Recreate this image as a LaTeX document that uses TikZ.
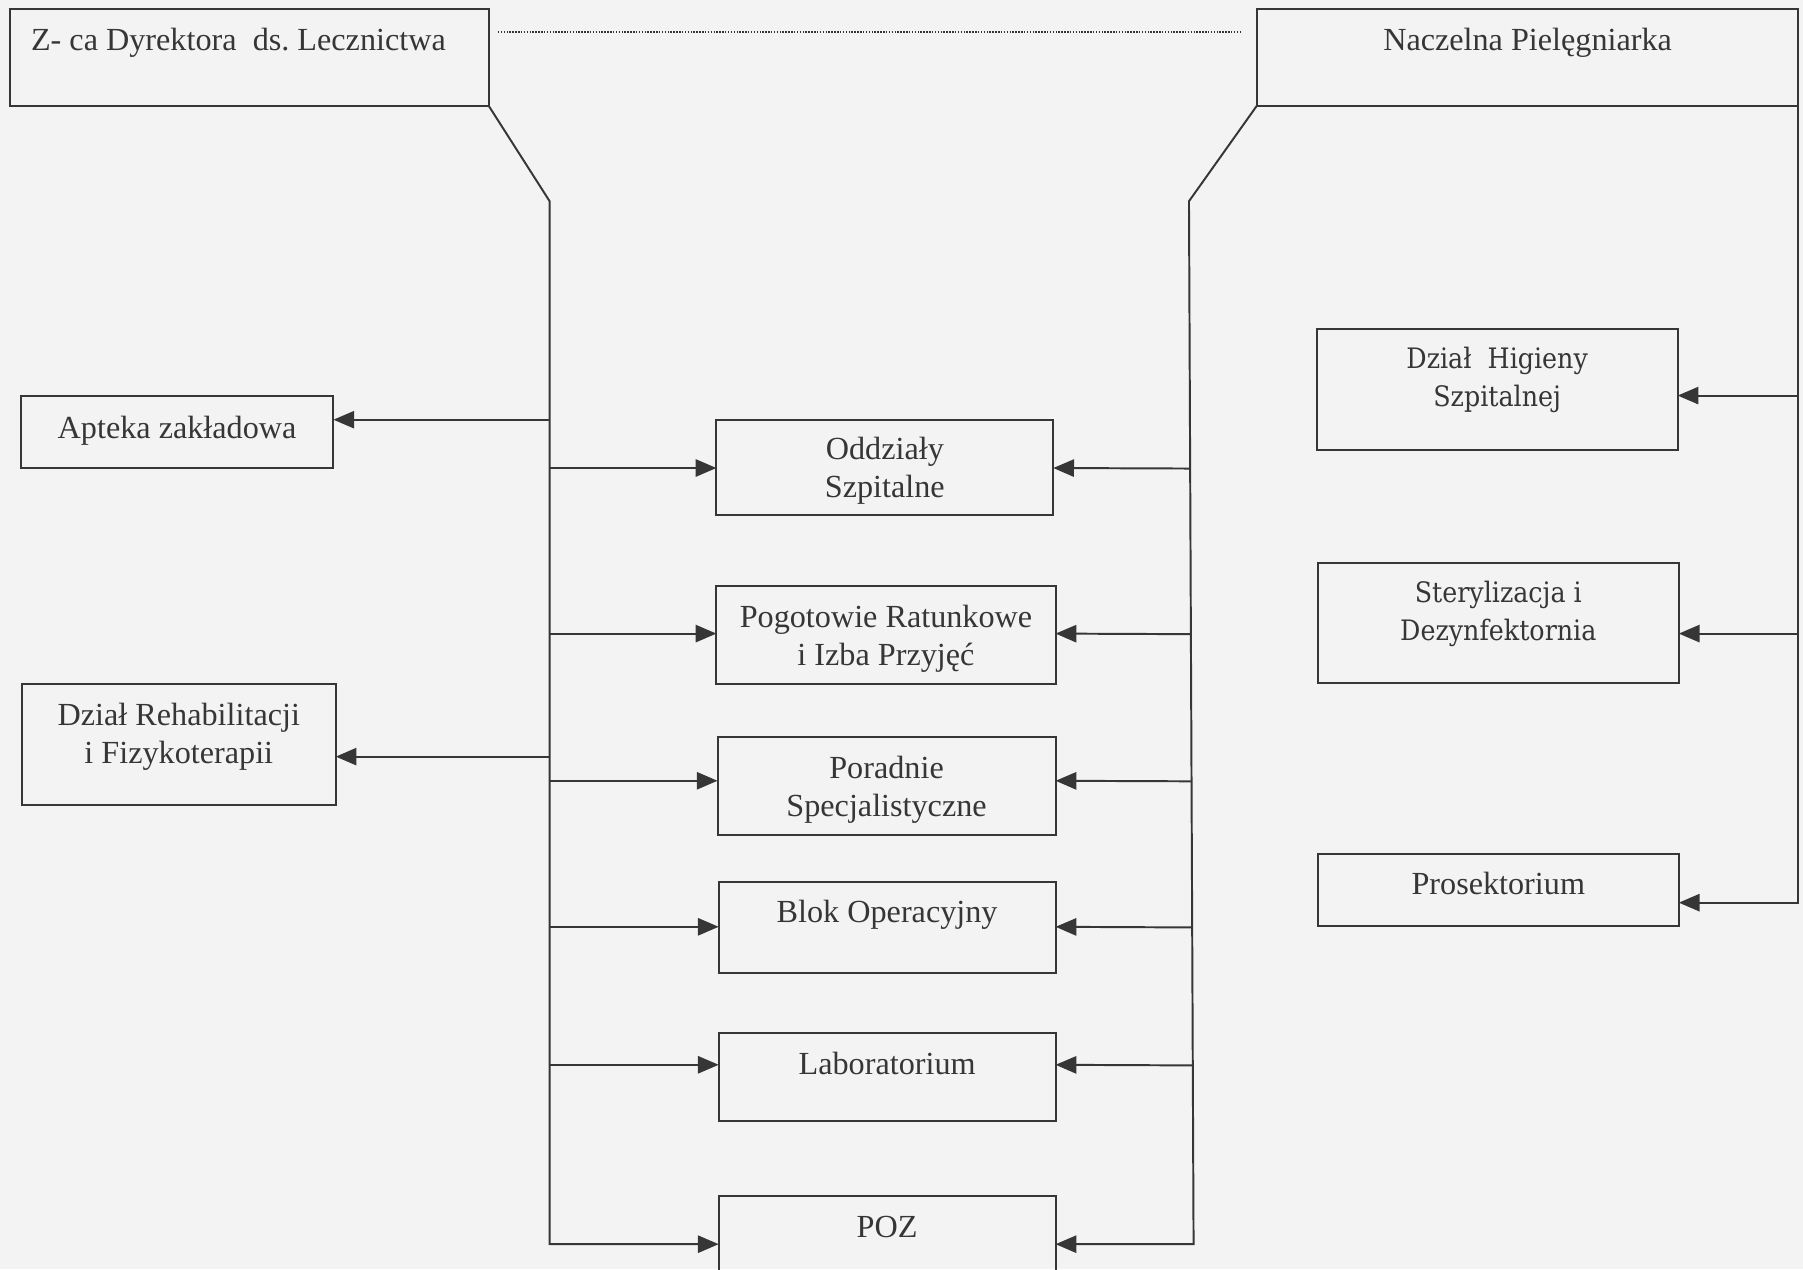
\documentclass[tikz,border=0pt]{standalone}
\usepackage{fontspec}
\setmainfont{Liberation Serif}
\newfontfamily\centfont{DejaVu Serif}[FakeStretch=0.9]
\usetikzlibrary{arrows.meta,calc}
\definecolor{lc}{HTML}{363636}
\definecolor{bg}{HTML}{F3F3F3}
\newcommand{\twol}[2]{\begin{tabular}{@{}c@{}}#1\\#2\end{tabular}}
\begin{document}
\begin{tikzpicture}[x=1pt,y=-1pt,
  box/.style={draw=lc, line width=1.7pt, inner sep=0pt, outer sep=0pt,
    text=lc, font=\fontsize{28}{33}\selectfont},
  rbox/.style={box, font=\centfont\fontsize{24.5}{33}\selectfont},
  conn/.style={draw=lc, line width=1.7pt},
  arr/.style={conn, -{Triangle[length=18pt,width=15pt]}},
  dots/.style={draw=lc, line width=1.3pt, dash pattern=on 1.3pt off 1.2pt}]
\fill[bg] (0,0) rectangle (1568,1104);
\useasboundingbox (0,0) rectangle (1568,1104);

% top boxes
\node[box, minimum width=416pt, minimum height=84pt, text width=380pt, align=flush left,
  text height=20pt, text depth=32pt] (zca) at (217,50) {Z- ca Dyrektora\ \ ds.\ Lecznictwa};
\node[box, minimum width=471pt, minimum height=84pt,
  text height=20pt, text depth=32pt] (nac) at (1328.5,50) {Naczelna Pielęgniarka};

% left column
\node[box, minimum width=272pt, minimum height=63pt, text height=20pt, text depth=9pt]
  (apt) at (154,375.5) {Apteka zakładowa};
\node[box, minimum width=273pt, minimum height=105pt, text height=40pt, text depth=41pt]
  (reh) at (155.5,647.5) {\twol{Dział Rehabilitacji}{i Fizykoterapii}};

% centre column
\node[box, minimum width=293pt, minimum height=83pt, text height=40pt, text depth=21pt]
  (odd) at (769.5,406.5) {\twol{Oddziały}{Szpitalne}};
\node[box, minimum width=295pt, minimum height=85pt, text height=40pt, text depth=22pt]
  (pog) at (770.5,552.5) {\twol{Pogotowie Ratunkowe}{i Izba Przyjęć}};
\node[box, minimum width=294pt, minimum height=85pt, text height=40pt, text depth=20pt]
  (por) at (771,683.5) {\twol{Poradnie}{Specjalistyczne}};
\node[box, minimum width=293pt, minimum height=79pt, text height=20pt, text depth=29pt]
  (blok) at (771.5,806.5) {Blok Operacyjny};
\node[box, minimum width=293pt, minimum height=77pt, text height=20pt, text depth=25pt]
  (lab) at (771.5,936.5) {Laboratorium};
\node[box, minimum width=293pt, minimum height=77pt, text height=20pt, text depth=25pt]
  (poz) at (771.5,1078.5) {POZ};

% right column
\node[rbox, minimum width=314pt, minimum height=105pt, text height=39pt, text depth=42pt]
  (hig) at (1302,338.5) {\twol{Dział\ \ Higieny}{Szpitalnej}};
\node[rbox, minimum width=314pt, minimum height=104pt, text height=39pt, text depth=42pt]
  (ste) at (1303,542) {\twol{Sterylizacja i}{Dezynfektornia}};
\node[box, minimum width=314pt, minimum height=62pt, text height=20pt, text depth=12pt]
  (pro) at (1303,774) {Prosektorium};

% dotted link between the heads
\draw[dots] ($(zca.north east)+(8,20)$) -- ($(nac.north west)+(-13,20)$);

% left spine
\coordinate (lt) at (478,175);
\coordinate (lb) at (478,1082);
\draw[arr] (zca.south east) -- (lt) -- (lb) -- (lb -| poz.west);
\draw[arr] (lt |- 0,365) -- (apt.east |- 0,365);
\draw[arr] (lt |- 0,658) -- (reh.east |- 0,658);
\draw[arr] (lt |- 0,407) -- (odd.west |- 0,407);
\draw[arr] (lt |- 0,551) -- (pog.west |- 0,551);
\draw[arr] (lt |- 0,679) -- (por.west |- 0,679);
\draw[arr] (lt |- 0,806) -- (blok.west |- 0,806);
\draw[arr] (lt |- 0,926) -- (lab.west |- 0,926);

% right spine
\coordinate (rt) at (1034,175);
\coordinate (rb) at (1038,1082);
\draw[arr] (nac.south west) -- (rt) -- (rb) -- (rb -| poz.east);
\draw[arr] ($(rt)!0.2563!(rb)$) -- (odd.east |- 0,407);
\draw[arr] ($(rt)!0.4151!(rb)$) -- (pog.east |- 0,551);
\draw[arr] ($(rt)!0.5562!(rb)$) -- (por.east |- 0,679);
\draw[arr] ($(rt)!0.6963!(rb)$) -- (blok.east |- 0,806);
\draw[arr] ($(rt)!0.8286!(rb)$) -- (lab.east |- 0,926);

% far right spine
\coordinate (fb) at (1564,785);
\draw[arr] (nac.south east) -- (fb) -- (fb -| pro.east);
\draw[arr] (nac.south east |- 0,344) -- (hig.east |- 0,344);
\draw[arr] (nac.south east |- 0,551) -- (ste.east |- 0,551);
\end{tikzpicture}
\end{document}
